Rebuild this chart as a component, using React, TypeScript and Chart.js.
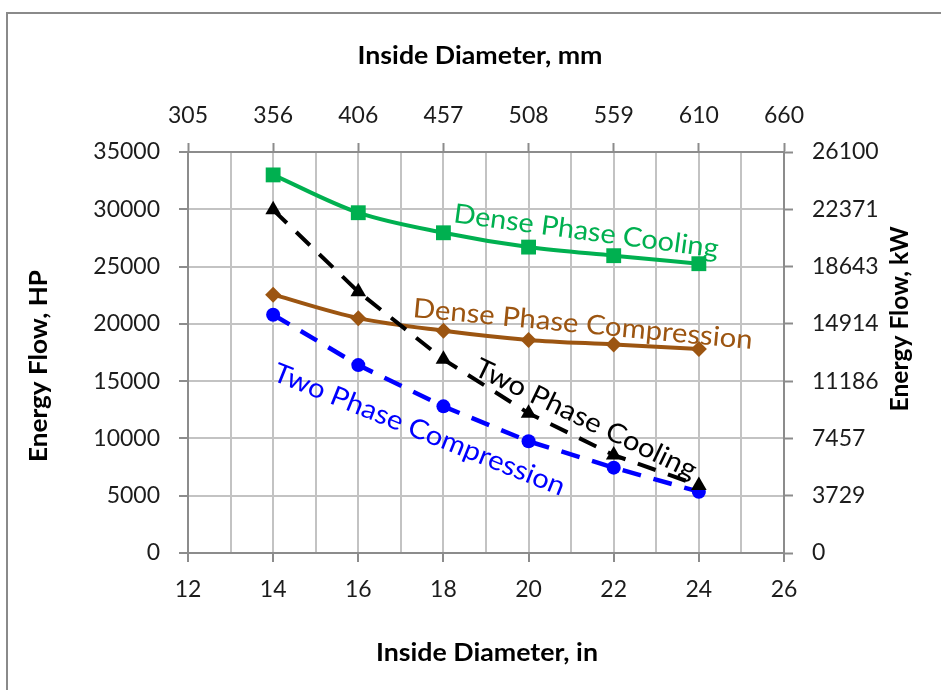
import React, { useEffect, useRef } from 'react';
import { Chart, registerables } from 'chart.js';

Chart.register(...registerables);

// ---- data ----
const diameters = [14, 16, 18, 20, 22, 24];
const densePhaseCooling = [33000, 29700, 27950, 26700, 25950, 25250];
const twoPhaseCooling = [29950, 22800, 16900, 12200, 8550, 5900];
const densePhaseCompression = [22550, 20500, 19400, 18600, 18200, 17800];
const twoPhaseCompression = [20800, 16400, 12800, 9750, 7450, 5350];

const hpMax = 35000;
const hpStep = 5000;
const kwTickLabels = ['0', '3729', '7457', '11186', '14914', '18643', '22371', '26100'];
const kwMax = 26100;
const inchMin = 12;
const inchMax = 26;
const inchTicks = [12, 14, 16, 18, 20, 22, 24, 26];
const mmTickLabels = ['305', '356', '406', '457', '508', '559', '610', '660'];

const seriesNames = ['Dense Phase Cooling', 'Two Phase Cooling', 'Dense Phase Compression', 'Two Phase Compression'];

// ---- styles / layout ----
const GREEN = '#00B050';
const BROWN = '#9C5511';
const BLUE = '#0000FF';
const BLACK = '#000000';
const GRID = '#c3c3c3';
const AXIS = '#8c8c8c';
const FONT = 'Lato';
const TEXT = '#1c1c1c';

const inlineLabels = [
  { text: seriesNames[0], color: GREEN, x: 585, y: 240, angle: 7.6, width: 267, size: 27 },
  { text: seriesNames[2], color: BROWN, x: 582, y: 333, angle: 5.4, width: 341, size: 27 },
  { text: seriesNames[1], color: BLACK, x: 582, y: 427, angle: 25.7, width: 243, size: 27 },
  { text: seriesNames[3], color: BLUE, x: 416, y: 438, angle: 21.9, width: 312, size: 27 },
];

const axisTitles = [
  { text: 'Inside Diameter, mm', x: 480, y: 64, angle: 0, width: 245, size: 24 },
  { text: 'Inside Diameter, in', x: 487, y: 661, angle: 0, width: 222, size: 24 },
  { text: 'Energy Flow, HP', x: 47, y: 366, angle: -90, width: 192, size: 24 },
  { text: 'Energy Flow, kW', x: 908, y: 319, angle: -90, width: 185, size: 24 },
];

function drawFitted(ctx: CanvasRenderingContext2D, t: any, weight: string, color: string) {
  ctx.save();
  ctx.font = `${weight} ${t.size}px ${FONT}`;
  const w = ctx.measureText(t.text).width;
  const sx = t.width / w;
  ctx.translate(t.x, t.y);
  ctx.rotate((t.angle * Math.PI) / 180);
  ctx.scale(sx, 1);
  ctx.textAlign = 'center';
  ctx.textBaseline = 'alphabetic';
  ctx.fillStyle = color;
  ctx.fillText(t.text, 0, 0);
  ctx.restore();
}

const decorPlugin = {
  id: 'decor',
  beforeDraw(chart: any) {
    const ctx = chart.ctx;
    ctx.save();
    ctx.fillStyle = '#ffffff';
    ctx.fillRect(0, 0, chart.width, chart.height);
    ctx.strokeStyle = '#8a8a8a';
    ctx.lineWidth = 2;
    ctx.strokeRect(7, 13, 3000, 3000);
    ctx.restore();
  },
  afterDraw(chart: any) {
    const ctx = chart.ctx;
    axisTitles.forEach((t) => drawFitted(ctx, t, 'bold', '#000000'));
    inlineLabels.forEach((t) => drawFitted(ctx, t, 'normal', t.color));
  },
};

export default function App() {
  const ref = useRef<HTMLCanvasElement | null>(null);

  useEffect(() => {
    if (!ref.current) return;
    const toPts = (vals: number[]) => diameters.map((d, i) => ({ x: d, y: vals[i] }));
    const tickFont = { family: FONT, size: 23 };

    const chart = new Chart(ref.current, {
      type: 'line',
      data: {
        datasets: [
          {
            label: seriesNames[0],
            data: toPts(densePhaseCooling),
            borderColor: GREEN,
            backgroundColor: GREEN,
            borderWidth: 4,
            pointStyle: 'rect',
            pointRadius: 10.5,
            pointBorderWidth: 0,
            tension: 0.4,
            cubicInterpolationMode: 'monotone',
            xAxisID: 'x',
            yAxisID: 'y',
          },
          {
            label: seriesNames[1],
            data: toPts(twoPhaseCooling),
            borderColor: BLACK,
            backgroundColor: BLACK,
            borderWidth: 4,
            borderDash: [19, 13],
            pointStyle: 'triangle',
            pointRadius: 9,
            pointBorderWidth: 0,
            tension: 0,
            xAxisID: 'x',
            yAxisID: 'y',
          },
          {
            label: seriesNames[2],
            data: toPts(densePhaseCompression),
            borderColor: BROWN,
            backgroundColor: BROWN,
            borderWidth: 4,
            pointStyle: 'rectRot',
            pointRadius: 8,
            pointBorderWidth: 0,
            tension: 0.4,
            cubicInterpolationMode: 'monotone',
            xAxisID: 'x',
            yAxisID: 'y',
          },
          {
            label: seriesNames[3],
            data: toPts(twoPhaseCompression),
            borderColor: BLUE,
            backgroundColor: BLUE,
            borderWidth: 4.5,
            borderDash: [19, 13],
            pointStyle: 'circle',
            pointRadius: 7,
            pointBorderWidth: 0,
            tension: 0,
            xAxisID: 'x',
            yAxisID: 'y',
          },
        ],
      },
      options: {
        animation: false,
        responsive: false,
        maintainAspectRatio: false,
        layout: { padding: 0 },
        plugins: {
          legend: { display: false },
          tooltip: { enabled: false },
          title: { display: false },
        },
        scales: {
          x: {
            type: 'linear',
            position: 'bottom',
            min: inchMin,
            max: inchMax,
            afterFit: (s: any) => { s.height = 690 - 553; },
            ticks: {
              stepSize: 1,
              autoSkip: false,
              maxRotation: 0,
              font: tickFont,
              color: TEXT,
              padding: 14,
              callback: (v: any) => (Number(v) % 2 === 0 ? String(v) : ''),
            },
            grid: {
              color: GRID,
              lineWidth: 2,
              tickLength: 9,
              tickColor: (c: any) => (c.tick && c.tick.value % 2 === 0 ? AXIS : 'rgba(0,0,0,0)'),
              tickWidth: 2,
            },
            border: { color: AXIS, width: 2 },
          },
          x2: {
            type: 'linear',
            position: 'top',
            min: inchMin,
            max: inchMax,
            afterFit: (s: any) => { s.height = 152; },
            afterBuildTicks: (s: any) => { s.ticks = inchTicks.map((v) => ({ value: v })); },
            ticks: {
              autoSkip: false,
              maxRotation: 0,
              font: tickFont,
              color: TEXT,
              padding: 14,
              callback: (_v: any, i: number) => mmTickLabels[i],
            },
            grid: { drawOnChartArea: false, tickLength: 9, tickColor: AXIS, tickWidth: 2 },
            border: { color: AXIS, width: 2 },
          },
          y: {
            type: 'linear',
            position: 'left',
            min: 0,
            max: hpMax,
            afterFit: (s: any) => { s.width = 188; },
            ticks: {
              stepSize: hpStep,
              font: tickFont,
              color: TEXT,
              padding: 19,
              callback: (v: any) => String(v),
            },
            grid: { color: GRID, lineWidth: 2, tickLength: 9, tickColor: AXIS, tickWidth: 2 },
            border: { color: AXIS, width: 2 },
          },
          y2: {
            type: 'linear',
            position: 'right',
            min: 0,
            max: kwMax,
            afterFit: (s: any) => { s.width = 941 - 784; },
            afterBuildTicks: (s: any) => {
              s.ticks = kwTickLabels.map((_l, i) => ({ value: (i * kwMax) / (kwTickLabels.length - 1) }));
            },
            ticks: {
              font: tickFont,
              color: TEXT,
              padding: 19,
              callback: (_v: any, i: number) => kwTickLabels[i],
            },
            grid: { drawOnChartArea: false, tickLength: 9, tickColor: AXIS, tickWidth: 2 },
            border: { color: AXIS, width: 2 },
          },
        },
      },
      plugins: [decorPlugin],
    } as any);

    return () => chart.destroy();
  }, []);

  return (
    <div style={{ position: 'fixed', left: 0, top: 0, width: 941, height: 690, overflow: 'hidden', background: '#fff' }}>
      <canvas ref={ref} width={941} height={690} style={{ display: 'block', width: 941, height: 690 }} />
    </div>
  );
}
